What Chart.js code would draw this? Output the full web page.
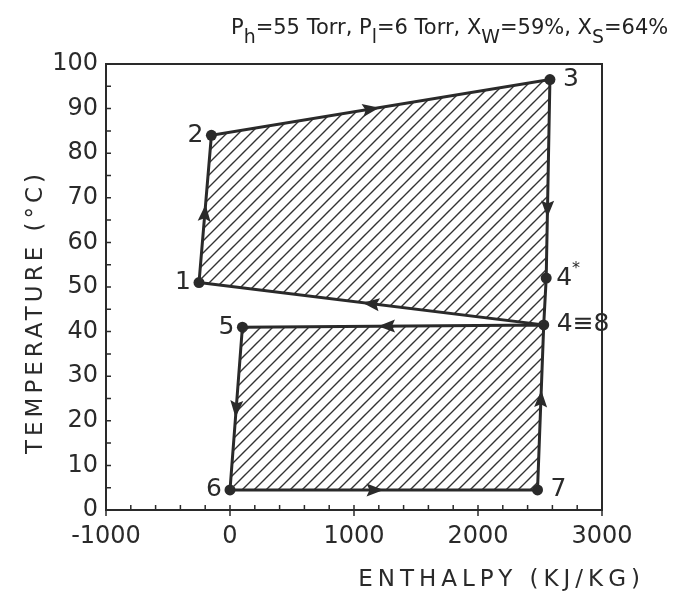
<!DOCTYPE html>
<html>
<head>
<meta charset="utf-8">
<script src="https://cdn.jsdelivr.net/npm/chart.js@4.4.0/dist/chart.umd.min.js"></script>
<style>
  html, body { margin: 0; padding: 0; background: #fff; }
  #wrap { position: relative; width: 674px; height: 599px; }
  #title { position: absolute; left: 231px; top: 15px; font: 21px 'DejaVu Sans', sans-serif; color: #222; white-space: nowrap; }
  #title sub { font-size: 0.9em; vertical-align: -0.45em; line-height: 0; }
</style>
</head>
<body>
<div id="wrap">
  <canvas id="cycleChart" width="674" height="599"></canvas>
  <div id="title">P<sub>h</sub>=55 Torr, P<sub>l</sub>=6 Torr, X<sub>W</sub>=59%, X<sub>S</sub>=64%</div>
</div>
<script>
// state points of the cycle
const pointLabels = ['1', '2', '3', '4*', '4≡8', '5', '6', '7'];
const enthalpy = [-250, -150, 2580, 2550, 2530, 100, 0, 2480];   // kJ/kg
const temperature = [51, 84, 96.5, 52, 41.5, 41, 4.5, 4.5];     // °C

// the two loops, as indices into the point arrays
const upperLoop = [0, 1, 2, 3, 4, 0];
const lowerLoop = [4, 5, 6, 7, 4];

const xTicks = [-1000, 0, 1000, 2000, 3000];
const yTicks = [0, 10, 20, 30, 40, 50, 60, 70, 80, 90, 100];
const xTitle = 'ENTHALPY (KJ/KG)';
const yTitle = 'TEMPERATURE (°C)';

const INK = '#2a2a2a';
const FONT = "'DejaVu Sans', sans-serif";

function loopData(idx) {
    return idx.map(i => ({ x: enthalpy[i], y: temperature[i] }));
}

// diagonal hatching
function hatch() {
    const s = 12;
    const c = document.createElement('canvas');
    c.width = s; c.height = s;
    const g = c.getContext('2d');
    g.strokeStyle = '#333';
    g.lineWidth = 1.4;
    g.beginPath();
    g.moveTo(0, s); g.lineTo(s, 0);
    g.moveTo(-2, 2); g.lineTo(2, -2);
    g.moveTo(s - 2, s + 2); g.lineTo(s + 2, s - 2);
    g.stroke();
    return g.createPattern(c, 'repeat');
}

const framePlugin = {
    id: 'frame',
    afterDatasetsDraw(chart) {
        const { ctx, chartArea: a, scales: { x, y } } = chart;
        ctx.save();
        ctx.strokeStyle = INK;
        ctx.lineWidth = 2;
        ctx.strokeRect(a.left, a.top, a.right - a.left, a.bottom - a.top);
        // tick marks pointing into the plot
        ctx.lineWidth = 1.5;
        ctx.beginPath();
        for (let v = xTicks[0]; v <= xTicks[xTicks.length - 1]; v += 200) {
            const px = x.getPixelForValue(v);
            const major = v % 1000 === 0;
            ctx.moveTo(px, a.bottom - 5);
            ctx.lineTo(px, a.bottom + (major ? 6 : 0));
        }
        for (let v = yTicks[0]; v <= yTicks[yTicks.length - 1]; v += 5) {
            const py = y.getPixelForValue(v);
            ctx.moveTo(a.left, py);
            ctx.lineTo(a.left + 5, py);
        }
        ctx.stroke();

        // axis titles, letter-spaced like the original
        ctx.fillStyle = INK;
        ctx.font = '23px ' + FONT;
        ctx.textBaseline = 'middle';
        ctx.letterSpacing = '5px';
        ctx.textAlign = 'right';
        ctx.fillText(xTitle, 645, 580);
        ctx.letterSpacing = '4px';
        ctx.translate(36, (a.top + a.bottom) / 2 + 25);
        ctx.rotate(-Math.PI / 2);
        ctx.textAlign = 'center';
        ctx.fillText(yTitle, 0, 0);
        ctx.restore();
    }
};

// direction arrows: segment (from, to) and where along it
const arrows = [
    [0, 1, 0.47], [1, 2, 0.47], [2, 3, 0.65], [4, 0, 0.5],
    [4, 5, 0.52], [5, 6, 0.5], [6, 7, 0.47], [7, 4, 0.55]
];

const arrowPlugin = {
    id: 'arrows',
    afterDatasetsDraw(chart) {
        const { ctx, scales: { x, y } } = chart;
        ctx.save();
        ctx.fillStyle = INK;
        arrows.forEach(([a, b, t]) => {
            const x0 = x.getPixelForValue(enthalpy[a]), y0 = y.getPixelForValue(temperature[a]);
            const x1 = x.getPixelForValue(enthalpy[b]), y1 = y.getPixelForValue(temperature[b]);
            const ang = Math.atan2(y1 - y0, x1 - x0);
            ctx.save();
            ctx.translate(x0 + (x1 - x0) * t, y0 + (y1 - y0) * t);
            ctx.rotate(ang);
            ctx.beginPath();
            ctx.moveTo(9, 0);
            ctx.lineTo(-8, -6.5);
            ctx.lineTo(-5, 0);
            ctx.lineTo(-8, 6.5);
            ctx.closePath();
            ctx.fill();
            ctx.restore();
        });
        ctx.restore();
    }
};

const labelSide = ['left', 'left', 'right', 'right', 'right', 'left', 'left', 'right'];

const labelPlugin = {
    id: 'pointLabels',
    afterDatasetsDraw(chart) {
        const { ctx, scales: { x, y } } = chart;
        ctx.save();
        ctx.fillStyle = INK;
        ctx.textBaseline = 'middle';
        pointLabels.forEach((txt, i) => {
            const px = x.getPixelForValue(enthalpy[i]);
            const py = y.getPixelForValue(temperature[i]);
            ctx.font = '25px ' + FONT;
            if (labelSide[i] === 'left') {
                ctx.textAlign = 'right';
                ctx.fillText(txt, px - 8, py);
                return;
            }
            ctx.textAlign = 'left';
            let lx = px + 10;
            if (txt.endsWith('*')) {
                const base = txt.slice(0, -1);
                ctx.fillText(base, lx, py);
                lx += ctx.measureText(base).width;
                ctx.font = '16px ' + FONT;
                ctx.fillText('*', lx, py - 9);
            } else {
                ctx.fillText(txt, lx + 3, py);
            }
        });
        ctx.restore();
    }
};

const ctx = document.getElementById('cycleChart').getContext('2d');
const pattern = hatch();

const loopStyle = {
    showLine: true,
    borderColor: INK,
    borderWidth: 3,
    backgroundColor: pattern,
    fill: 'shape',
    pointRadius: 0,
    tension: 0
};

new Chart(ctx, {
    type: 'scatter',
    data: {
        datasets: [
            { ...loopStyle, data: loopData(upperLoop) },
            { ...loopStyle, data: loopData(lowerLoop) },
            {
                data: pointLabels.map((_, i) => ({ x: enthalpy[i], y: temperature[i] })),
                showLine: false,
                pointRadius: 5.5,
                pointBackgroundColor: INK,
                pointBorderWidth: 0
            }
        ]
    },
    options: {
        responsive: false,
        animation: false,
        layout: { padding: { top: 64, right: 72, left: 0, bottom: 0 } },
        plugins: {
            legend: { display: false },
            tooltip: { enabled: false }
        },
        scales: {
            x: {
                type: 'linear',
                min: xTicks[0],
                max: xTicks[xTicks.length - 1],
                afterBuildTicks: s => { s.ticks = xTicks.map(v => ({ value: v })); },
                afterFit: s => { s.height = 89; },
                grid: { display: false, drawTicks: false },
                border: { display: false },
                ticks: { color: INK, padding: 12, font: { family: FONT, size: 24 }, callback: v => String(v) }
            },
            y: {
                type: 'linear',
                min: yTicks[0],
                max: yTicks[yTicks.length - 1],
                afterBuildTicks: s => { s.ticks = yTicks.map(v => ({ value: v })); },
                afterFit: s => { s.width = 106; },
                grid: { display: false, drawTicks: false },
                border: { display: false },
                ticks: { color: INK, padding: 8, font: { family: FONT, size: 24 }, callback: v => String(v) }
            }
        }
    },
    plugins: [framePlugin, arrowPlugin, labelPlugin]
});
</script>
</body>
</html>
